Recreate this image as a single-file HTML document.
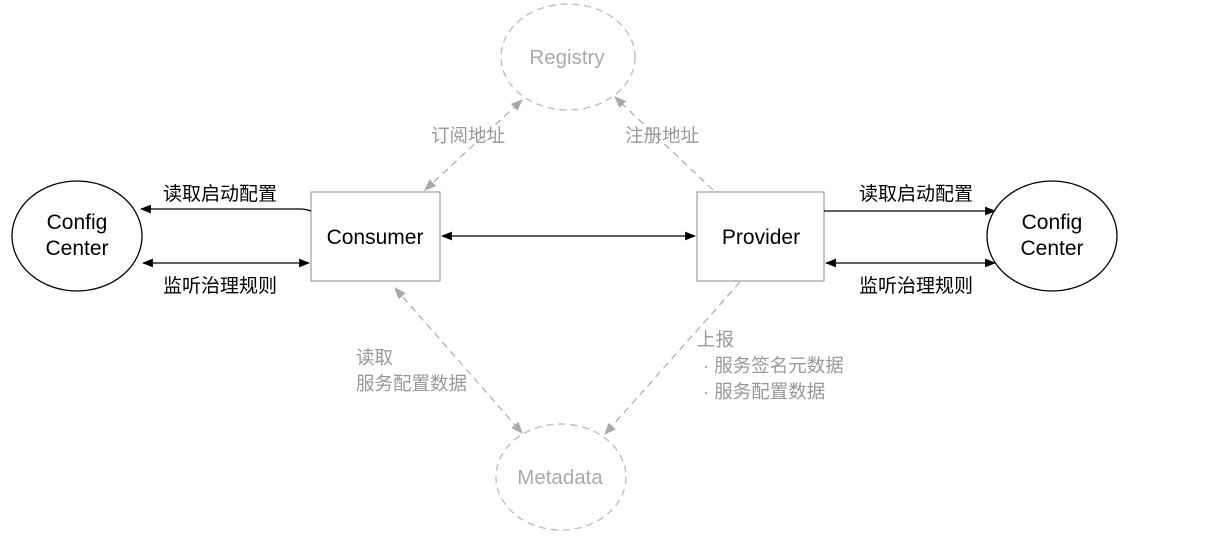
<!DOCTYPE html>
<html><head><meta charset="utf-8"><style>
html,body{margin:0;padding:0;background:#fff;}
svg text{font-family:"Liberation Sans","Noto Sans CJK SC",sans-serif;}
</style></head><body>
<svg width="1218" height="553" viewBox="0 0 1218 553" xmlns="http://www.w3.org/2000/svg">
<defs>
<marker id="a" viewBox="0 0 10 10" refX="9" refY="5" markerWidth="11" markerHeight="11" markerUnits="userSpaceOnUse" orient="auto-start-reverse"><path d="M0,1 L10,5 L0,9 z" fill="#000"/></marker>
<marker id="g" viewBox="0 0 10 10" refX="9" refY="5" markerWidth="12" markerHeight="12" markerUnits="userSpaceOnUse" orient="auto-start-reverse"><path d="M0,1 L10,5 L0,9 z" fill="#aaa"/></marker>
</defs>
<g fill="none" stroke="#000" stroke-width="1.3">
<ellipse cx="77" cy="236" rx="65" ry="55"/>
<ellipse cx="1052" cy="236" rx="65" ry="55"/>
</g>
<g fill="none" stroke="#888" stroke-width="1">
<rect x="311" y="192" width="129" height="89"/>
<rect x="697" y="192" width="127" height="89"/>
</g>
<g fill="none" stroke="#bbb" stroke-width="1.3" stroke-dasharray="7,5">
<ellipse cx="568" cy="57" rx="67" ry="53"/>
<ellipse cx="561" cy="477" rx="65" ry="53"/>
</g>
<g stroke="#000" stroke-width="1.3" fill="none">
<path d="M311,211 Q306,209 300,209 L141,209" marker-end="url(#a)"/>
<line x1="143" y1="263" x2="309" y2="263" marker-start="url(#a)" marker-end="url(#a)"/>
<line x1="442" y1="236" x2="695" y2="236" marker-start="url(#a)" marker-end="url(#a)"/>
<line x1="824" y1="211" x2="995" y2="211" marker-end="url(#a)"/>
<line x1="826" y1="263" x2="995" y2="263" marker-start="url(#a)" marker-end="url(#a)"/>
</g>
<g stroke="#aaa" stroke-width="1.2" fill="none" stroke-dasharray="7,5">
<line x1="425" y1="190" x2="522" y2="100" marker-start="url(#g)" marker-end="url(#g)"/>
<line x1="713" y1="190" x2="615" y2="97" marker-end="url(#g)"/>
<line x1="395" y1="288" x2="522" y2="433" marker-start="url(#g)" marker-end="url(#g)"/>
<line x1="740" y1="282" x2="605" y2="434" marker-end="url(#g)"/>
</g>
<g font-size="21" fill="#000" text-anchor="middle">
<text x="77" y="229">Config</text>
<text x="77" y="255">Center</text>
<text x="1052" y="229">Config</text>
<text x="1052" y="255">Center</text>
<text x="375" y="244">Consumer</text>
<text x="761" y="244">Provider</text>
</g>
<g font-size="20.5" fill="#aaa" text-anchor="middle">
<text x="567" y="64">Registry</text>
<text x="560" y="484">Metadata</text>
</g>
<g font-size="19" fill="#000">
<text x="163" y="200">读取启动配置</text>
<text x="163" y="292">监听治理规则</text>
<text x="859" y="200">读取启动配置</text>
<text x="859" y="292">监听治理规则</text>
</g>
<g font-size="18.5" fill="#999">
<text x="431" y="142">订阅地址</text>
<text x="625" y="142">注册地址</text>
<text x="356" y="364">读取</text>
<text x="356" y="390">服务配置数据</text>
<text x="697" y="346">上报</text>
<text x="703" y="372">· 服务签名元数据</text>
<text x="703" y="398">· 服务配置数据</text>
</g>
</svg>
</body></html>
